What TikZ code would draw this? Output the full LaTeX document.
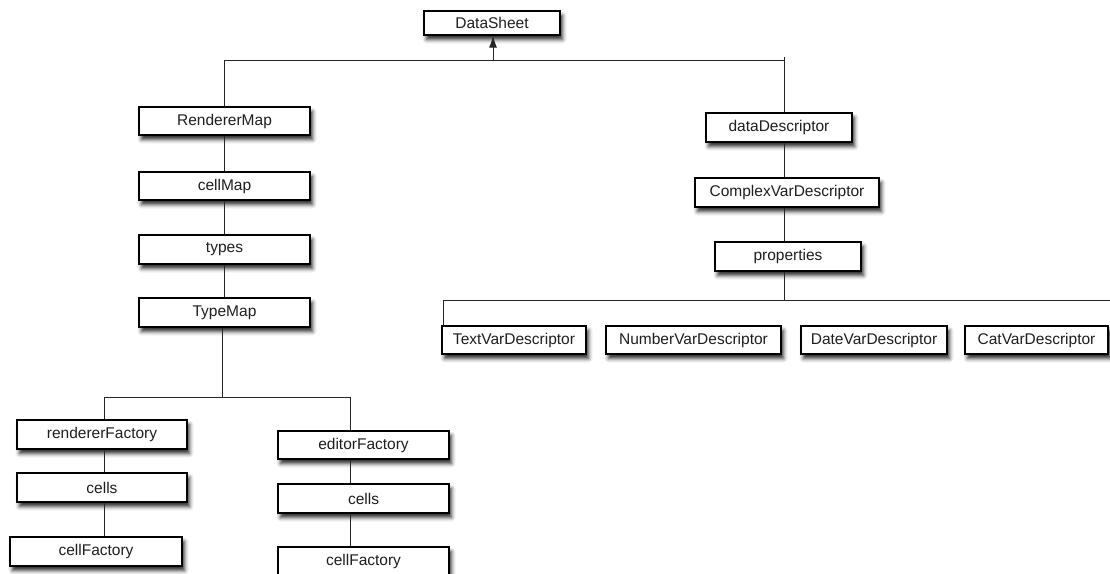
\documentclass[tikz,border=0pt]{standalone}
\usepackage{fontspec}
\setmainfont{Liberation Sans}
\usetikzlibrary{shadows.blur,arrows.meta}
\begin{document}
\begin{tikzpicture}[x=1pt,y=-1pt,
  box/.style={draw=black, line width=1.2pt, fill=white, inner sep=0pt,
    font=\fontsize{15.5}{17}\selectfont, text=black!88,
    blur shadow={shadow xshift=2.5pt, shadow yshift=-4.5pt, shadow blur radius=4pt, shadow opacity=85}},
  conn/.style={draw=black!85, line width=1pt}]
\useasboundingbox (0,0) rectangle (1110,573);
% left tree
\node[box, minimum width=136pt, minimum height=24pt] (ds) at (492,23) {DataSheet};
\node[box, minimum width=171pt, minimum height=28pt] (rm) at (224.5,121) {RendererMap};
\node[box, minimum width=171pt, minimum height=28pt] (cm) at (224.5,186) {cellMap};
\node[box, minimum width=171pt, minimum height=29pt] (ty) at (224.5,249.5) {types};
\node[box, minimum width=171pt, minimum height=29pt] (tm) at (224.5,312.5) {TypeMap};
\node[box, minimum width=170pt, minimum height=29pt] (rf) at (102,434.5) {rendererFactory};
\node[box, minimum width=170pt, minimum height=29pt] (c1) at (102,487.5) {cells};
\node[box, minimum width=172pt, minimum height=29pt] (cf1) at (96,551.5) {cellFactory};
\node[box, minimum width=171pt, minimum height=28pt] (ef) at (363.5,445) {editorFactory};
\node[box, minimum width=171pt, minimum height=29pt] (c2) at (363.5,498.5) {cells};
\node[box, minimum width=171pt, minimum height=29pt] (cf2) at (363.5,561.5) {cellFactory};
% right tree
\node[box, minimum width=146pt, minimum height=29pt] (dd) at (779,127.5) {dataDescriptor};
\node[box, minimum width=184pt, minimum height=29pt] (cv) at (787,192.5) {ComplexVarDescriptor};
\node[box, minimum width=146pt, minimum height=29pt] (pr) at (788,256.5) {properties};
\node[box, minimum width=144pt, minimum height=28pt] (tv) at (514,340) {TextVarDescriptor};
\node[box, minimum width=175pt, minimum height=28pt] (nv) at (693.5,340) {NumberVarDescriptor};
\node[box, minimum width=146pt, minimum height=28pt] (dv) at (874,340) {DateVarDescriptor};
\node[box, minimum width=143pt, minimum height=28pt] (cv2) at (1036.5,340) {CatVarDescriptor};
% junction coordinates
\coordinate (top) at (493,60);
\coordinate (topL) at (224,60);
\coordinate (topR) at (784,60);
\coordinate (tick) at (784,57);
\coordinate (fork) at (222,397);
\coordinate (forkL) at (104,397);
\coordinate (forkR) at (350,397);
\coordinate (pj) at (784,300);
\coordinate (pjL) at (443,300);
\coordinate (pjR) at (1110,300);
% connectors
\draw[conn, -{Latex[length=12pt,width=8pt]}] (top) -- (ds.south -| top);
\draw[conn] (rm.north -| topL) -- (topL) -- (topR);
\draw[conn] (tick) -- (dd.north -| topR);
\draw[conn] (rm) -- (cm);
\draw[conn] (cm) -- (ty);
\draw[conn] (ty) -- (tm);
\draw[conn] (tm.south -| fork) -- (fork);
\draw[conn] (rf.north -| forkL) -- (forkL) -- (forkR) -- (ef.north -| forkR);
\draw[conn] (rf.south -| forkL) -- (c1.north -| forkL);
\draw[conn] (c1.south -| forkL) -- (cf1.north -| forkL);
\draw[conn] (ef.south -| forkR) -- (c2.north -| forkR);
\draw[conn] (c2.south -| forkR) -- (cf2.north -| forkR);
\draw[conn] (dd.south -| topR) -- (cv.north -| topR);
\draw[conn] (cv.south -| topR) -- (pr.north -| topR);
\draw[conn] (pr.south -| pj) -- (pj);
\draw[conn] (tv.north -| pjL) -- (pjL) -- (pjR);
\end{tikzpicture}
\end{document}
